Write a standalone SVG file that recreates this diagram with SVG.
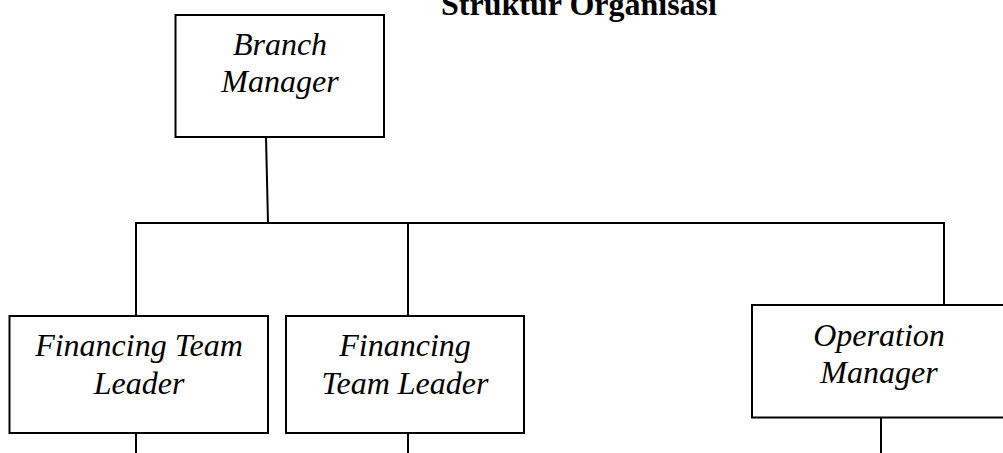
<svg xmlns="http://www.w3.org/2000/svg" width="1003" height="453" viewBox="0 0 1003 453">
  <style>
    .box { fill: #ffffff; stroke: #000000; stroke-width: 2; }
    .lbl { font-family: "Liberation Serif", "Times New Roman", serif; font-style: italic; font-size: 32px; fill: #000000; text-anchor: middle; }
    .title { font-family: "Liberation Serif", "Times New Roman", serif; font-weight: bold; font-size: 32px; fill: #000000; text-anchor: middle; }
    .wire { fill: none; stroke: #000000; stroke-width: 2; }
  </style>
  <rect width="1003" height="453" fill="#ffffff"/>

  <text class="title" x="579" y="15">Struktur Organisasi</text>

  <!-- reporting lines -->
  <g id="connectors">
    <path class="wire" d="M266,137 L268,223"/>
    <path class="wire" d="M135,223 L945,223"/>
    <path class="wire" d="M136,223 L136,316"/>
    <path class="wire" d="M408,223 L408,316"/>
    <path class="wire" d="M944,223 L944,305"/>
    <path class="wire" d="M136,433 L136,453"/>
    <path class="wire" d="M408,433 L408,453"/>
    <path class="wire" d="M881,418 L881,453"/>
  </g>

  <g id="branch-manager">
    <rect class="box" x="175.5" y="15" width="208.5" height="122"/>
    <text class="lbl" x="280" y="55">Branch</text>
    <text class="lbl" x="280" y="92">Manager</text>
  </g>

  <g id="financing-team-leader-1">
    <rect class="box" x="9.5" y="316" width="258.5" height="117"/>
    <text class="lbl" x="139" y="356">Financing Team</text>
    <text class="lbl" x="139" y="394">Leader</text>
  </g>

  <g id="financing-team-leader-2">
    <rect class="box" x="286" y="316" width="238" height="117"/>
    <text class="lbl" x="405" y="356">Financing</text>
    <text class="lbl" x="405" y="394">Team Leader</text>
  </g>

  <g id="operation-manager">
    <rect class="box" x="752" y="305" width="260" height="112.5"/>
    <text class="lbl" x="879" y="346">Operation</text>
    <text class="lbl" x="879" y="383">Manager</text>
  </g>
</svg>
